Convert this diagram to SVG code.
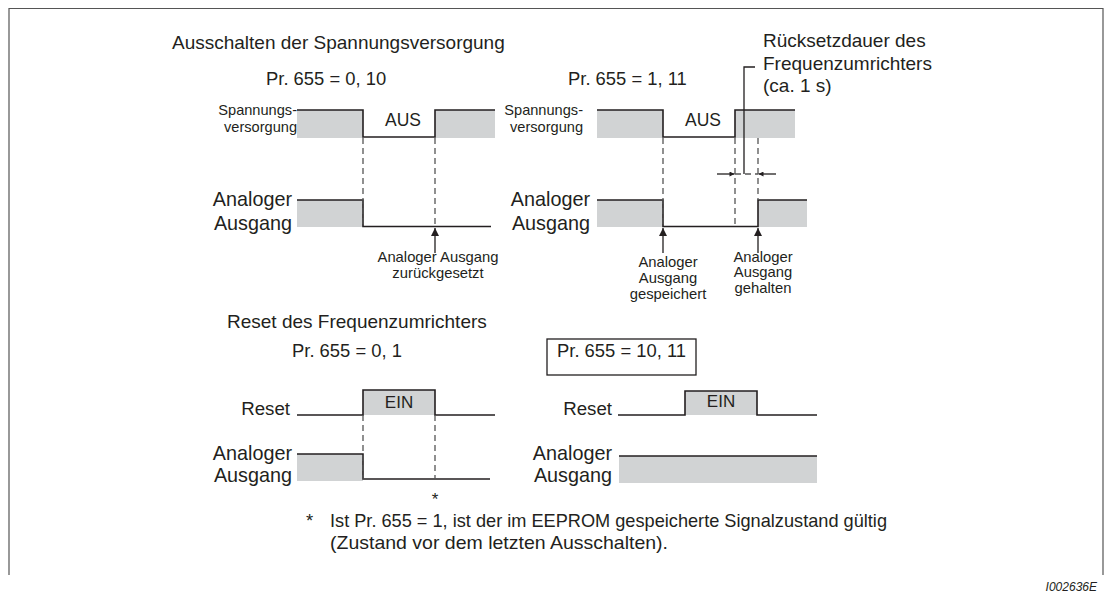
<svg xmlns="http://www.w3.org/2000/svg" width="1105" height="595" viewBox="0 0 1105 595">
<style>
.t{font-family:"Liberation Sans",Arial,sans-serif;fill:#231f20}
.big{font-size:19px}
.pr{font-size:18.4px}
.lab{font-size:19.8px}
.sm{font-size:14.6px}
.ann{font-size:14.8px}
.st{font-size:17.5px}
.sig{fill:none;stroke:#231f20;stroke-width:1.6}
.gf{fill:#d1d3d4}
.dash{fill:none;stroke:#555;stroke-width:1.3;stroke-dasharray:6 4}
.ar{fill:none;stroke:#231f20;stroke-width:1.3}
.frame{fill:none;stroke:#555;stroke-width:1.2}
</style>
<defs>
<marker id="ah" viewBox="0 0 10 10" refX="10" refY="5" markerWidth="9" markerHeight="8" markerUnits="userSpaceOnUse" orient="auto"><path d="M0,0 L10,5 L0,10 Z" fill="#231f20"/></marker>
<marker id="ahs" viewBox="0 0 10 10" refX="10" refY="5" markerWidth="6" markerHeight="5" markerUnits="userSpaceOnUse" orient="auto"><path d="M0,0 L10,5 L0,10 Z" fill="#231f20"/></marker>
</defs>
<rect width="1105" height="595" fill="#fff"/>
<path class="frame" d="M9,575 V8.5 H1103 V575"/>

<g id="title-power">
<text class="t big" x="172" y="49">Ausschalten der Spannungsversorgung</text>
</g>

<g id="panel-tl">
<text class="t pr" x="266" y="85">Pr. 655 = 0, 10</text>
<rect class="gf" x="297" y="110" width="66" height="28"/>
<rect class="gf" x="435" y="110" width="60" height="28"/>
<path class="sig" d="M297,110 H363 V137 H435 V110 H495"/>
<text class="t sm" x="297" y="115" text-anchor="end">Spannungs-</text>
<text class="t sm" x="297" y="132" text-anchor="end">versorgung</text>
<text class="t st" x="403" y="126" text-anchor="middle">AUS</text>
<rect class="gf" x="297" y="200" width="66" height="27"/>
<path class="sig" d="M297,200 H363 V226.5 H491"/>
<text class="t lab" x="292" y="206" text-anchor="end">Analoger</text>
<text class="t lab" x="292" y="229.5" text-anchor="end">Ausgang</text>
<text class="t ann" x="438" y="261.5" text-anchor="middle">Analoger Ausgang</text>
<text class="t ann" x="438" y="278" text-anchor="middle">zurückgesetzt</text>
</g>

<g id="panel-tr">
<text class="t pr" x="568" y="85">Pr. 655 = 1, 11</text>
<rect class="gf" x="597" y="110" width="66" height="28"/>
<rect class="gf" x="735" y="110" width="60" height="28"/>
<path class="sig" d="M597,110 H663 V137 H735 V110 H795"/>
<text class="t sm" x="583" y="115" text-anchor="end">Spannungs-</text>
<text class="t sm" x="583" y="132" text-anchor="end">versorgung</text>
<text class="t st" x="703" y="126" text-anchor="middle">AUS</text>
<rect class="gf" x="597" y="200" width="66" height="27"/>
<rect class="gf" x="758" y="200" width="49" height="27"/>
<path class="sig" d="M597,200 H663 V226.5 H758 V200 H807"/>
<text class="t lab" x="590" y="206" text-anchor="end">Analoger</text>
<text class="t lab" x="590" y="229.5" text-anchor="end">Ausgang</text>
<text class="t ann" x="668" y="267" text-anchor="middle">Analoger</text>
<text class="t ann" x="668" y="283" text-anchor="middle">Ausgang</text>
<text class="t ann" x="668" y="298.5" text-anchor="middle">gespeichert</text>
<text class="t ann" x="763" y="261.5" text-anchor="middle">Analoger</text>
<text class="t ann" x="763" y="277" text-anchor="middle">Ausgang</text>
<text class="t ann" x="763" y="292.5" text-anchor="middle">gehalten</text>
</g>

<g id="reset-duration-label">
<text class="t big" x="763" y="47">Rücksetzdauer des</text>
<text class="t big" x="763" y="69.5">Frequenzumrichters</text>
<text class="t big" x="763" y="92">(ca. 1 s)</text>
</g>

<g id="title-reset">
<text class="t big" x="227" y="328">Reset des Frequenzumrichters</text>
</g>

<g id="panel-bl">
<text class="t pr" x="292" y="357">Pr. 655 = 0, 1</text>
<rect class="gf" x="363" y="390" width="72" height="25"/>
<path class="sig" d="M297,415 H363 V390 H435 V415 H495"/>
<text class="t" style="font-size:18.7px" x="290" y="415" text-anchor="end">Reset</text>
<text class="t" style="font-size:17px" x="399" y="408" text-anchor="middle">EIN</text>
<rect class="gf" x="297" y="454" width="66" height="27"/>
<path class="sig" d="M297,454 H363 V479 H490"/>
<text class="t lab" x="292" y="460" text-anchor="end">Analoger</text>
<text class="t lab" x="292" y="482" text-anchor="end">Ausgang</text>
<text class="t" style="font-size:17px" x="435" y="505" text-anchor="middle">*</text>
</g>

<g id="panel-br">
<rect x="547" y="339" width="149" height="36" fill="none" stroke="#231f20" stroke-width="1.3"/>
<text class="t pr" x="557" y="357">Pr. 655 = 10, 11</text>
<rect class="gf" x="685" y="391" width="72" height="24"/>
<path class="sig" d="M618,415 H685 V391 H757 V415 H817"/>
<text class="t" style="font-size:18.7px" x="612" y="415" text-anchor="end">Reset</text>
<text class="t" style="font-size:17px" x="721" y="407" text-anchor="middle">EIN</text>
<rect class="gf" x="619" y="456" width="198" height="27"/>
<path class="sig" d="M619,456 H817"/>
<text class="t lab" x="612" y="460" text-anchor="end">Analoger</text>
<text class="t lab" x="612" y="482" text-anchor="end">Ausgang</text>
</g>

<g id="connectors">
<path class="dash" d="M363,138 V227 M435,138 V227"/>
<path class="dash" d="M663,138 V227 M735,138 V227 M758,138 V200"/>
<path class="dash" d="M735,174 H758"/>
<path class="dash" d="M363,415 V479 M435,415 V479"/>
<path class="ar" d="M435,253 V228" marker-end="url(#ah)"/>
<path class="ar" d="M663,253 V228" marker-end="url(#ah)"/>
<path class="ar" d="M758,253 V228" marker-end="url(#ah)"/>
<path class="ar" d="M717,174 H734.5" marker-end="url(#ahs)"/>
<path class="ar" d="M776,174 H758.5" marker-end="url(#ahs)"/>
<path class="ar" d="M744,174 V67 H755"/>
</g>

<g id="footnote">
<text class="t" style="font-size:18.5px" x="306" y="527">*</text>
<text class="t" style="font-size:18.5px" x="330" y="527" textLength="557" lengthAdjust="spacingAndGlyphs">Ist Pr. 655 = 1, ist der im EEPROM gespeicherte Signalzustand gültig</text>
<text class="t" style="font-size:18.5px" x="330" y="548.5" textLength="338" lengthAdjust="spacingAndGlyphs">(Zustand vor dem letzten Ausschalten).</text>
</g>

<g id="figure-id">
<text class="t" style="font-size:12px;font-style:italic" x="1097" y="591" text-anchor="end">I002636E</text>
</g>
</svg>
